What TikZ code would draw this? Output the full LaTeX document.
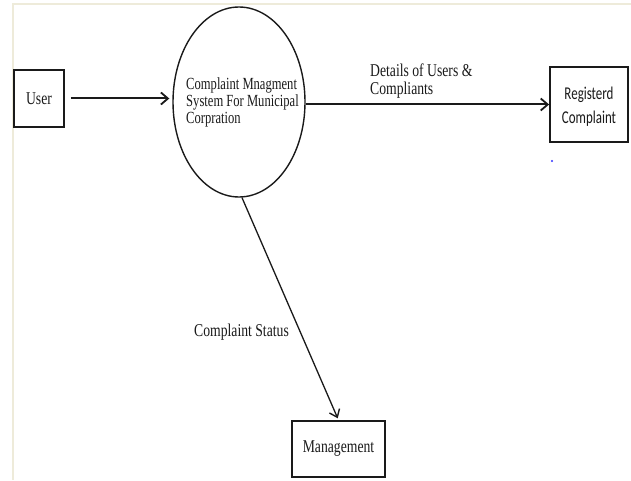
\documentclass[tikz,border=0pt]{standalone}
\usepackage{fontspec}
\usetikzlibrary{shapes.geometric,arrows.meta,calc}
\newfontfamily\serifst[FakeStretch=0.76]{Liberation Serif}
\newfontfamily\serifnar[FakeStretch=0.74]{Liberation Serif}
\newfontfamily\sansst[FakeStretch=0.72]{Carlito}
\definecolor{frame}{HTML}{EEEBDA}
\definecolor{ink}{HTML}{1A1A1A}
\tikzset{
  ent/.style={draw=ink, line width=1.8pt, rectangle, inner sep=0pt, text=ink,
    font=\serifst\fontsize{18}{18}\selectfont},
  proc/.style={draw=ink, line width=1.4pt, ellipse, inner sep=0pt,
    minimum width=132pt, minimum height=190pt},
  proctext/.style={text=ink, inner sep=0pt, align=left,
    font=\serifnar\fontsize{17}{17}\selectfont},
  flow/.style={draw=ink, line width=2pt, -{Straight Barb[length=7pt,width=12pt,line width=1.8pt]}},
  dflow/.style={draw=ink, line width=1.3pt, -{Straight Barb[length=7pt,width=11pt,line width=1.4pt]}},
  lbl/.style={text=ink, inner sep=0pt, align=left, font=\serifst\fontsize{18}{18}\selectfont}
}
\begin{document}
\begin{tikzpicture}[x=1pt,y=1pt]
  \useasboundingbox (0,0) rectangle (631,480);
  \fill[white] (0,0) rectangle (631,480);
  % beige frame lines
  \draw[frame, line width=2pt] (13,0) -- (13,475.5) -- (631,475.5);
  % nodes
  \node[ent, minimum width=50pt, minimum height=57pt] (user) at (39,381.5) {User};
  \node[proc] (sys) at (239,378) {};
  \node[proctext] (systext) at (242.5,377.5) {Complaint Mnagment\\System For Municipal\\Corpration};
  \node[ent, minimum width=78pt, minimum height=75pt] (reg) at (589,375.5) {};
  \node[text=ink, inner sep=0pt, align=center, font=\sansst\fontsize{18}{24}\selectfont]
        (regtext) at (589,373.5) {Registerd\\Complaint};
  \node[ent, minimum width=93pt, minimum height=56pt] (mgmt) at (338.5,31) {Management};
  % flows
  \draw[flow, shorten <=6pt, shorten >=3pt] (user.east) -- (user.east -| sys.west);
  \draw[flow] (reg.west -| sys.east) -- (reg.west);
  \draw[dflow, shorten >=2pt] ($(sys.south)+(3,0)$) -- (mgmt.north);
  % labels
  \node[lbl, anchor=west] (l1) at (370,399) {Details of Users \&\\Compliants};
  \node[lbl] (l2) at (241.5,148) {Complaint Status};
  % stray dot
  \fill[blue!80] (552,319) circle (1.1pt);
\end{tikzpicture}
\end{document}
